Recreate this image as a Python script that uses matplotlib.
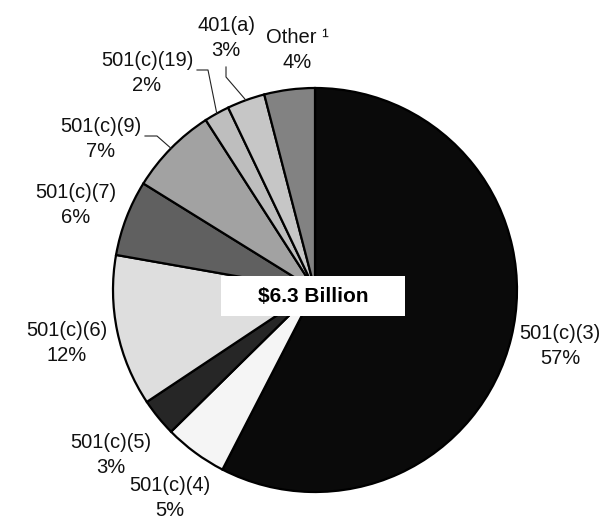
import numpy as np
import matplotlib
matplotlib.use('Agg')
import matplotlib.pyplot as plt
from matplotlib.patches import Rectangle

plt.rcParams['font.family'] = ['Liberation Sans', 'DejaVu Sans']

# share of assets by exempt organization type
categories = ['501(c)(3)', '501(c)(4)', '501(c)(5)', '501(c)(6)', '501(c)(7)',
              '501(c)(9)', '501(c)(19)', '401(a)', 'Other \u00b9']
shares = [57, 5, 3, 12, 6, 7, 2, 3, 4]
colors = ['#0a0a0a', '#f5f5f5', '#262626', '#dedede', '#606060',
          '#a2a2a2', '#bebebe', '#c6c6c6', '#828282']
total_label = '$6.3 Billion'

W, H = 609, 519


def px(x, y):
    # image-style pixel coords -> data coords
    return x, H - y


fig = plt.figure(figsize=(W / 100, H / 100), dpi=100)
ax = fig.add_axes([0, 0, 1, 1])

cx, cy = px(315, 290)
R = 202
wedges, _ = ax.pie(shares, colors=colors, startangle=90, counterclock=False,
                   center=(cx, cy), radius=R,
                   wedgeprops=dict(edgecolor='black', linewidth=1.6))

ax.set_xlim(0, W)
ax.set_ylim(0, H)
ax.set_aspect('equal')
ax.axis('off')

# label block centres
label_pos = [(560, 346), (170, 498), (111, 455), (67, 343), (76, 205),
             (101, 139), (147, 73), (226, 38), (297, 50)]

for cat, val, (x, y) in zip(categories, shares, label_pos):
    ax.text(*px(x, y), f'{cat}\n{val}%', ha='center', va='center',
            fontsize=14.5, linespacing=1.4, color='#111111')


def edge_point(w):
    a = np.deg2rad((w.theta1 + w.theta2) / 2)
    return cx + R * np.cos(a), cy + R * np.sin(a)


# leader lines for the thin slices near the top
leaders = {5: [(145, 136), (157, 136)],
           6: [(197, 70), (208, 70)],
           7: [(226, 67), (226, 77)]}
for i, pts in leaders.items():
    xs = [px(*p)[0] for p in pts]
    ys = [px(*p)[1] for p in pts]
    ex, ey = edge_point(wedges[i])
    ax.plot(xs + [ex], ys + [ey], color='#222222', lw=0.8)

# total box in the middle
bx0, by0 = px(221, 316)
ax.add_patch(Rectangle((bx0, by0), 184, 40, facecolor='white',
                       edgecolor='none', zorder=5))
ax.text(*px(313, 296), total_label, ha='center', va='center',
        fontsize=15, fontweight='bold', zorder=6)

fig.savefig('out.png', dpi=100)
